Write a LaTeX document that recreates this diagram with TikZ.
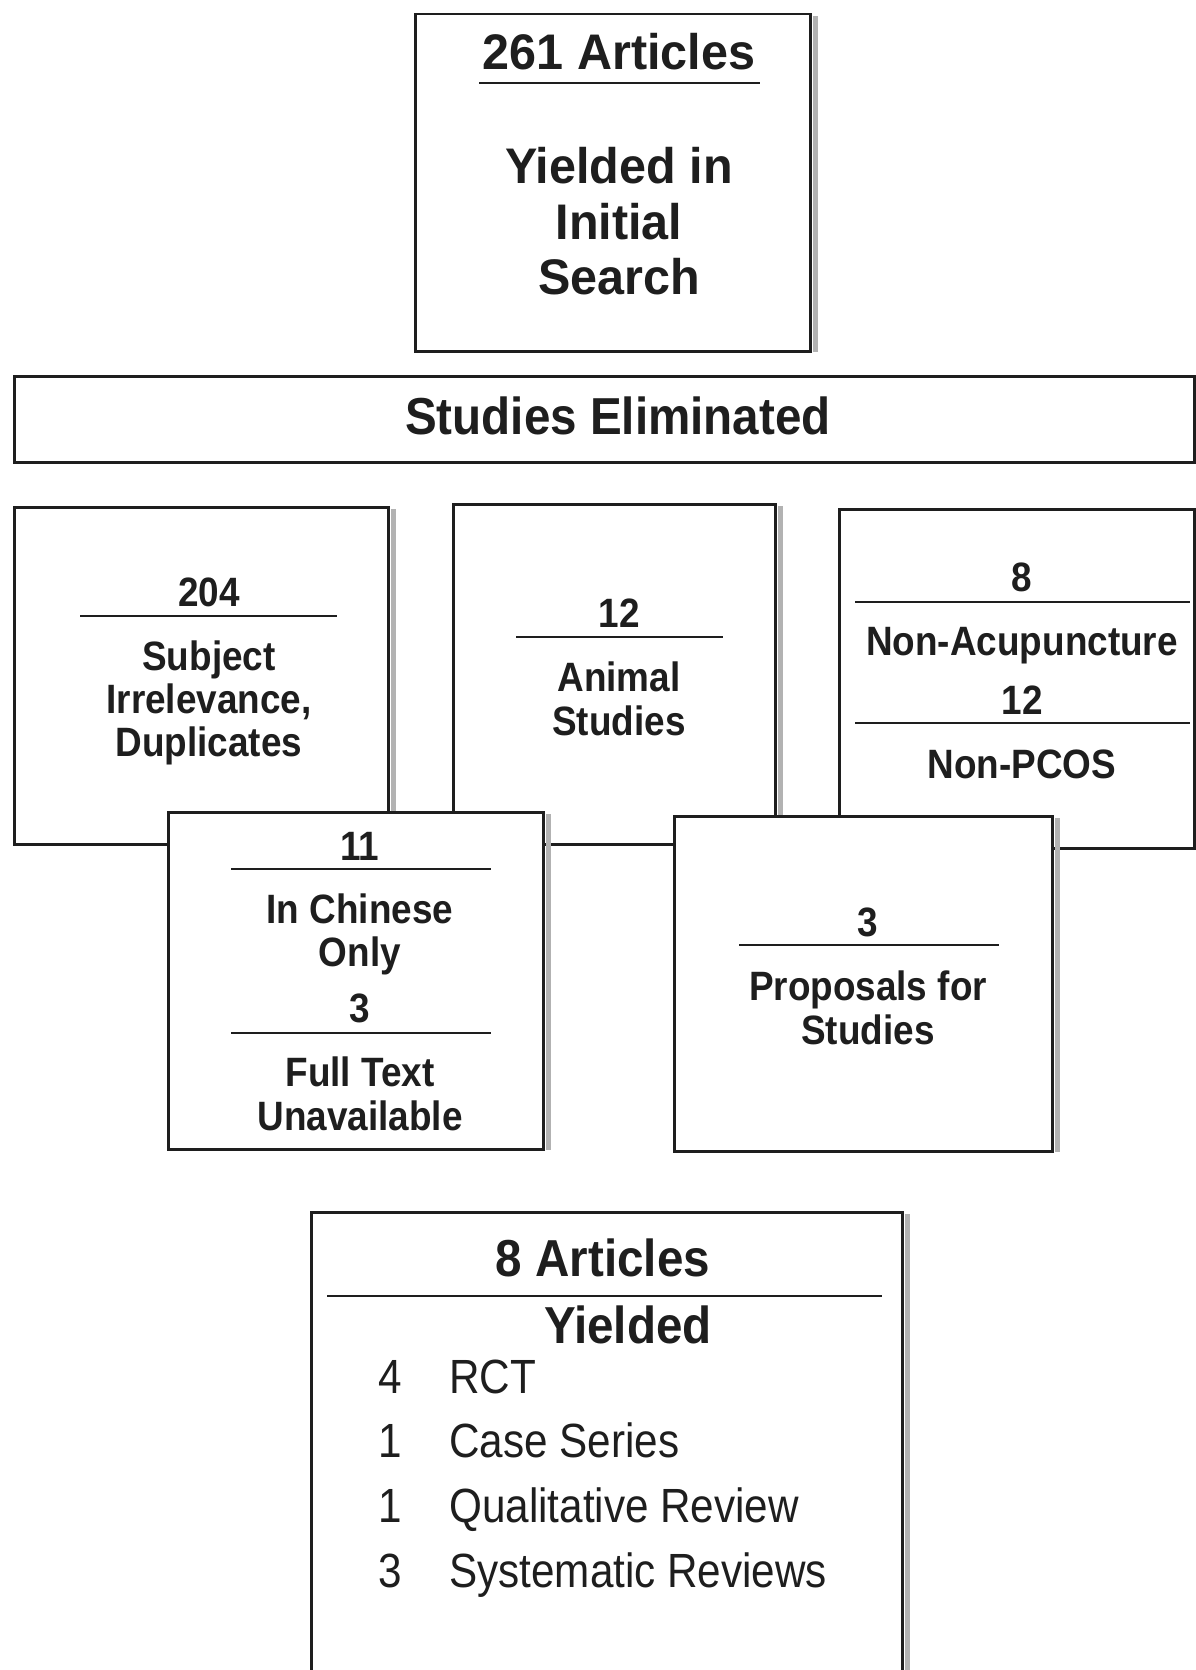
\documentclass[tikz,border=0pt]{standalone}
\usepackage{fontspec}
\setmainfont{Liberation Sans}
\newfontfamily\topf[FakeStretch=0.97]{Liberation Sans}
\newfontfamily\condf[FakeStretch=0.9]{Liberation Sans}
\newfontfamily\bigf[FakeStretch=0.915]{Liberation Sans}
\newfontfamily\listf[FakeStretch=0.88]{Liberation Sans}
\definecolor{ink}{HTML}{1E1E1E}
\tikzset{
  box/.style={draw=ink, line width=2.5pt, fill=white, anchor=north west, inner sep=0pt},
  shade/.style={fill=gray!60},
  rule/.style={draw=ink, line width=1.6pt},
  txt/.style={anchor=base, text=ink, inner sep=0pt},
  topt/.style={txt, font=\topf\bfseries\fontsize{50}{52}\selectfont},
  midt/.style={txt, font=\condf\bfseries\fontsize{41}{43}\selectfont},
  bigt/.style={txt, font=\bigf\bfseries\fontsize{52}{54}\selectfont},
  listt/.style={txt, font=\listf\fontsize{48}{50}\selectfont},
}
\begin{document}
\begin{tikzpicture}[x=1pt,y=-1pt]
\useasboundingbox (0,0) rectangle (1196,1670);
\clip (0,0) rectangle (1196,1670);
\fill[white] (0,0) rectangle (1196,1670);

% top box
\node[box, minimum width=395pt, minimum height=337pt] (top) at (414,13) {};
\fill[shade] ([xshift=1.25pt,yshift=-3pt]top.north east) rectangle ([xshift=6pt,yshift=1pt]top.south east);
\node[topt] (t1) at (619,70) {261 Articles};
\draw[rule] (479,83) -- (760,83);
\node[topt] (t2) at (619,183) {Yielded in};
\node[topt] (t3) at (619,239) {Initial};
\node[topt] (t4) at (619,294) {Search};

% studies eliminated
\node[box, minimum width=1180pt, minimum height=86pt] (se) at (13,375) {};
\node[bigt] (se1) at (618,434) {Studies Eliminated};

% box 1
\node[box, minimum width=374pt, minimum height=337pt] (b1) at (13,506) {};
\fill[shade] ([xshift=1.25pt,yshift=-3pt]b1.north east) rectangle ([xshift=6pt,yshift=1pt]b1.south east);
\node[midt] (b1a) at (209,606) {204};
\draw[rule] (80,616) -- (337,616);
\node[midt] (b1b) at (209,670) {Subject};
\node[midt] (b1c) at (209,713) {Irrelevance,};
\node[midt] (b1d) at (209,756) {Duplicates};

% box 2
\node[box, minimum width=322pt, minimum height=340pt] (b2) at (452,503) {};
\fill[shade] ([xshift=1.25pt,yshift=-3pt]b2.north east) rectangle ([xshift=6pt,yshift=1pt]b2.south east);
\node[midt] (b2a) at (619,627) {12};
\draw[rule] (516,637) -- (723,637);
\node[midt] (b2b) at (619,691) {Animal};
\node[midt] (b2c) at (619,735) {Studies};

% box 3
\node[box, minimum width=355pt, minimum height=339pt] (b3) at (838,508) {};
\node[midt] (b3a) at (1022,591) {8};
\draw[rule] (855,602) -- (1190,602);
\node[midt] (b3b) at (1022,655) {Non-Acupuncture};
\node[midt] (b3c) at (1022,714) {12};
\draw[rule] (855,723) -- (1190,723);
\node[midt] (b3d) at (1022,778) {Non-PCOS};

% box 4
\node[box, minimum width=375pt, minimum height=337pt] (b4) at (167,811) {};
\fill[shade] ([xshift=1.25pt,yshift=-3pt]b4.north east) rectangle ([xshift=6pt,yshift=1pt]b4.south east);
\node[midt] (b4a) at (360,860) {11};
\draw[rule] (231,869) -- (491,869);
\node[midt] (b4b) at (360,923) {In Chinese};
\node[midt] (b4c) at (360,966) {Only};
\node[midt] (b4d) at (360,1022) {3};
\draw[rule] (231,1033) -- (491,1033);
\node[midt] (b4e) at (360,1086) {Full Text};
\node[midt] (b4f) at (360,1130) {Unavailable};

% box 5
\node[box, minimum width=378pt, minimum height=335pt] (b5) at (673,815) {};
\fill[shade] ([xshift=1.25pt,yshift=-3pt]b5.north east) rectangle ([xshift=6pt,yshift=1pt]b5.south east);
\node[midt] (b5a) at (868,936) {3};
\draw[rule] (739,945) -- (999,945);
\node[midt] (b5b) at (868,1000) {Proposals for};
\node[midt] (b5c) at (868,1044) {Studies};

% bottom box
\node[box, minimum width=591pt, minimum height=480pt] (bt) at (310,1211) {};
\fill[shade] ([xshift=1.25pt,yshift=-3pt]bt.north east) rectangle ([xshift=6pt,yshift=1pt]bt.south east);
\node[bigt] (bt1) at (603,1276) {8 Articles};
\draw[rule] (327,1296) -- (882,1296);
\node[bigt] (bt2) at (628,1343) {Yielded};
\node[listt] (n1) at (390,1393) {4};
\node[listt, anchor=base west] (l1) at (449,1393) {RCT};
\node[listt] (n2) at (390,1457) {1};
\node[listt, anchor=base west] (l2) at (449,1457) {Case Series};
\node[listt] (n3) at (390,1522) {1};
\node[listt, anchor=base west] (l3) at (449,1522) {Qualitative Review};
\node[listt] (n4) at (390,1587) {3};
\node[listt, anchor=base west] (l4) at (449,1587) {Systematic Reviews};
\end{tikzpicture}
\end{document}
